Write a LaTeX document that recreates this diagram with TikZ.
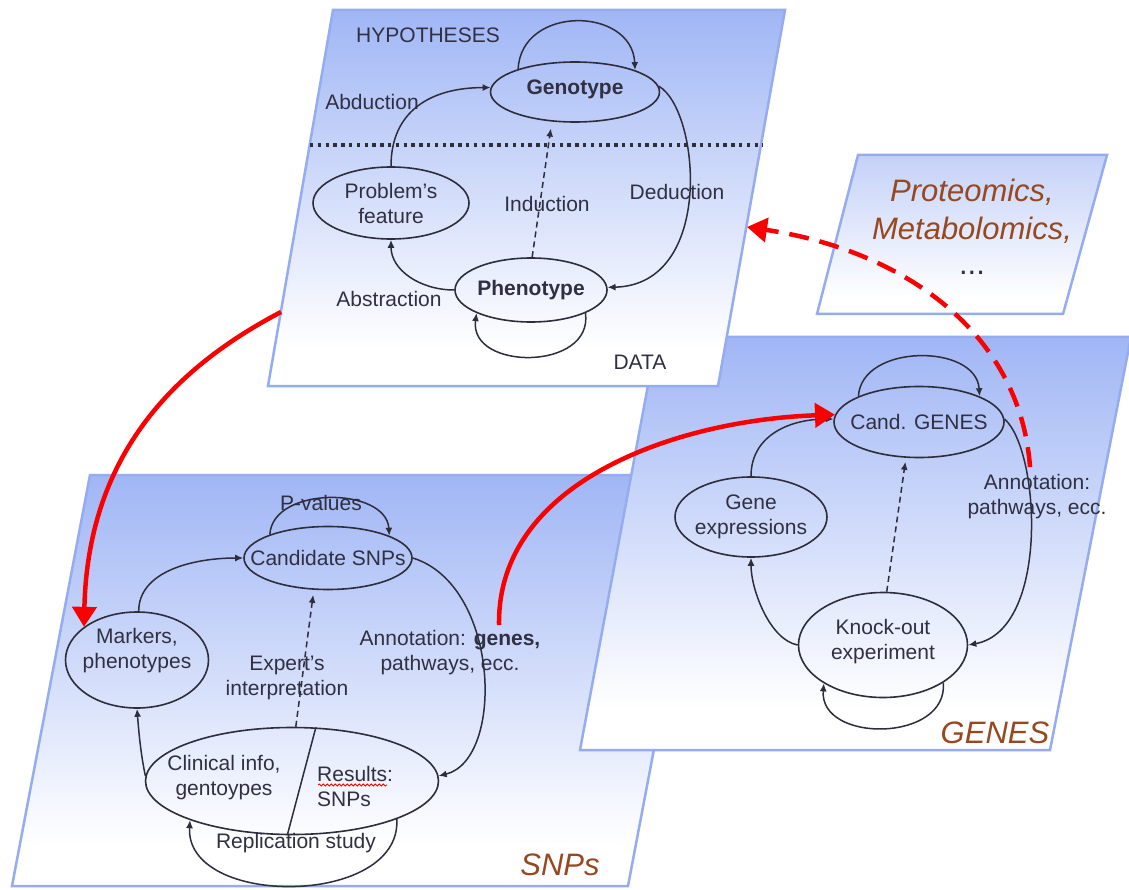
\documentclass[tikz,border=0pt]{standalone}
\usepackage{fontspec}
\setmainfont{Liberation Sans}
\usetikzlibrary{arrows.meta,shapes.geometric,decorations.pathmorphing}

\definecolor{pblue}{RGB}{160,182,245}
\definecolor{pblue2}{RGB}{196,209,248}
\definecolor{pedge}{RGB}{150,172,240}
\definecolor{ink}{RGB}{45,45,60}
\definecolor{tcol}{RGB}{48,48,66}
\definecolor{brn}{RGB}{150,72,32}
\definecolor{rred}{RGB}{250,0,0}

\pgfdeclareverticalshading{panelshade}{100bp}{color(0bp)=(white); color(30bp)=(white); color(75bp)=(pblue); color(100bp)=(pblue)}
\pgfdeclareverticalshading{panelshadeb}{100bp}{color(0bp)=(white); color(30bp)=(white); color(75bp)=(pblue2); color(100bp)=(pblue2)}

\begin{document}
\begin{tikzpicture}[x=1pt,y=-1pt,
  panel/.style={draw=pedge, line width=2.5pt, shade, shading=panelshade},
  panelb/.style={draw=pedge, line width=2.5pt, shade, shading=panelshadeb},
  ell/.style={draw=ink, line width=1.6pt, ellipse, inner sep=0pt},
  lbl/.style={text=tcol, align=center, font=\fontsize{21}{25}\selectfont, inner sep=0pt},
  big/.style={text=brn, align=center, font=\fontsize{31}{38}\selectfont\itshape, inner sep=0pt},
  conn/.style={draw=ink, line width=1.5pt, -{Latex[length=8pt,width=7pt]}},
  dconn/.style={conn, dash pattern=on 6pt off 4pt},
  redarr/.style={draw=rred, line width=4.5pt, -{Triangle[length=20pt,width=24pt]}},
  reddash/.style={redarr, dash pattern=on 20pt off 11pt}
]
\useasboundingbox (0,0) rectangle (1129,890);
\fill[white] (0,0) rectangle (1129,890);

% ---------- panels ----------
\path[panel] (90,475) -- (706,475) -- (628,886) -- (12,886) -- cycle;
\path[panel] (657,337) -- (1131,337) -- (1050,750) -- (580,750) -- cycle;
\path[panel] (333,10) -- (785,10) -- (718,386) -- (268,386) -- cycle;
\path[panelb] (858,155) -- (1107,155) -- (1063,314) -- (817,314) -- cycle;

% ---------- top panel ----------
\draw[ink, line width=3.4pt, dash pattern=on 3.4pt off 4.4pt] (310,145) -- (763,145);
\node[lbl] (hyp) at (428,35) {HYPOTHESES};
\node[lbl] (data) at (640,362) {DATA};
\node[ell, minimum width=169pt, minimum height=60pt,
      label={[lbl,yshift=3pt]center:{\textbf{Genotype}}}] (geno) at (575,92) {};
\node[ell, minimum width=156pt, minimum height=72pt,
      label={[lbl]center:{Problem’s\\feature}}] (prob) at (391,203) {};
\node[ell, minimum width=152pt, minimum height=64pt,
      label={[lbl]center:{\textbf{Phenotype}}}] (pheno) at (531,290) {};
\node[lbl] (abd) at (372,102) {Abduction};
\node[lbl] (ded) at (677,192) {Deduction};
\node[lbl] (ind) at (547,204) {Induction};
\node[lbl] (abs) at (389,299) {Abstraction};

\draw[conn] (geno.158) .. controls +(3,-64) and +(-3,-64) .. (geno.20);
\draw[conn] (prob.north) .. controls +(0,-55) and +(-60,0) .. (geno.177);
\draw[conn] (geno.4) .. controls (700,110) and (715,285) .. (pheno.2);
\draw[conn] (pheno.180) .. controls (420,290) and (391,270) .. (prob.south);
\draw[dconn, shorten >=7pt] (pheno.88) -- (geno.232);
\draw[conn] (pheno.337) .. controls +(8,58) and +(-8,58) .. (pheno.203);

% ---------- proteomics panel ----------
\node[big] (prot) at (972,192) {Proteomics,};
\node[big] (meta) at (972,230) {Metabolomics,};
\node[text=tcol, inner sep=0pt, font=\fontsize{31}{38}\selectfont] (dots) at (972,273) {...};

% ---------- GENES panel ----------
\node[ell, minimum width=170pt, minimum height=71pt,
      label={[lbl]center:{Cand. GENES}}] (cg) at (919,422) {};
\node[ell, minimum width=152pt, minimum height=80pt,
      label={[lbl]center:{Gene\\expressions}}] (gexp) at (751,517) {};
\node[ell, minimum width=169pt, minimum height=105pt,
      label={[lbl,yshift=3pt]center:{Knock-out\\experiment}}] (ko) at (883,645) {};
\node[lbl] (annog) at (1037,497) {Annotation:\\pathways, ecc.};
\node[big] (genes) at (995,733) {GENES};

\draw[conn] (cg.157) .. controls +(3,-53) and +(-3,-53) .. (cg.23);
\draw[conn] (gexp.north) .. controls +(0,-40) and +(-45,0) .. (cg.178);
\draw[conn] (cg.2) .. controls (1040,450) and (1050,630) .. (ko.0);
\draw[conn] (ko.180) .. controls (770,640) and (751,590) .. (gexp.south);
\draw[dconn, shorten >=4pt] (ko.86) -- (cg.250);
\draw[conn] (ko.328) .. controls +(5,60) and +(-5,60) .. (ko.213);

% ---------- SNPs panel ----------
\node[ell, minimum width=168pt, minimum height=63pt,
      label={[lbl]center:{Candidate SNPs}}] (cs) at (328,558) {};
\node[ell, minimum width=143pt, minimum height=96pt,
      label={[lbl,yshift=9pt]center:{Markers,\\phenotypes}}] (mk) at (137,660) {};
\node[ell, minimum width=293pt, minimum height=107pt] (cl) at (292,781) {};
\node[lbl] (clin) at (224,778) {Clinical info,\\gentoypes};
\node[lbl, align=left, anchor=west] (res) at (317,786) {Results:\\SNPs};
\node[lbl] (pval) at (321,503) {P-values};
\node[lbl] (expi) at (287,678) {Expert’s\\interpretation};
\node[lbl] (annos) at (450,653) {Annotation: \textbf{genes,}\\pathways, ecc.};
\node[lbl] (repl) at (296,843) {Replication study};
\node[big] (snps) at (560,865) {SNPs};

\draw[rred, line width=0.8pt, decorate, decoration={snake, amplitude=1pt, segment length=4pt}] (318,785) -- (387,785);

\draw[conn] (cs.158) .. controls +(3,-49) and +(-3,-49) .. (cs.20);
\draw[conn] (mk.88) .. controls +(0,-40) and +(-50,0) .. (cs.180);
\draw[conn] (cs.0) .. controls (500,585) and (505,760) .. (cl.2);
\draw[conn] (cl.178) .. controls (141,755) and (139,735) .. (mk.south);
\draw[dconn, shorten >=5pt] (cl.86) -- (cs.246);
\draw[ink, line width=1.5pt] (cl.66) -- (cl.265);
\draw[conn] (cl.340) .. controls +(5,88) and +(-5,88) .. (cl.201);

% ---------- red arrows ----------
\coordinate (s1) at (281,312);
\coordinate (s2) at (499,625);
\coordinate (s3) at (1030,467);
\coordinate (e3) at (747,227);
\draw[redarr] (s1) .. controls (180,365) and (88,450) .. (mk.148);
\draw[redarr] (s2) .. controls (497,480) and (680,420) .. (cg.175);
\draw[reddash] (s3) .. controls (1020,330) and (900,250) .. (e3);
\end{tikzpicture}
\end{document}
